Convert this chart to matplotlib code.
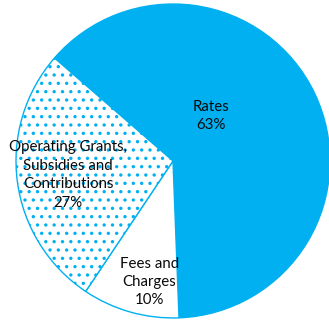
import matplotlib.pyplot as plt
import numpy as np

labels = ["Rates\n63%", "Fees and\nCharges\n10%", "Operating Grants,\nSubsidies and\nContributions\n27%"]
shares = [63, 10, 27]
blue = "#00B0F0"

# where each label sits: (radius fraction, angle in degrees)
label_pos = [(0.375, 50), (0.785, -101), (0.674, 187.6)]

plt.rcParams['font.family'] = ['Lato', 'DejaVu Sans']
plt.rcParams['hatch.color'] = blue
plt.rcParams['hatch.linewidth'] = 1.2

fig = plt.figure(figsize=(3.29, 3.24), dpi=100)
ax = fig.add_axes([0, 0, 1, 1])

wedges, _ = ax.pie(shares, startangle=139, counterclock=False,
                   colors=[blue, "white", "white"],
                   wedgeprops=dict(edgecolor=blue, linewidth=1.0))
wedges[2].set_hatch('..')

for lab, (r, a) in zip(labels, label_pos):
    ax.text(r * np.cos(np.radians(a)), r * np.sin(np.radians(a)), lab,
            ha='center', va='center', fontsize=10.8, color='#0a0a0a',
            linespacing=1.4)

ax.set_xlim(-1.102, 0.994)
ax.set_ylim(-1.038, 1.025)
ax.set_aspect('equal')
ax.axis('off')

fig.savefig("out.png", dpi=100)
